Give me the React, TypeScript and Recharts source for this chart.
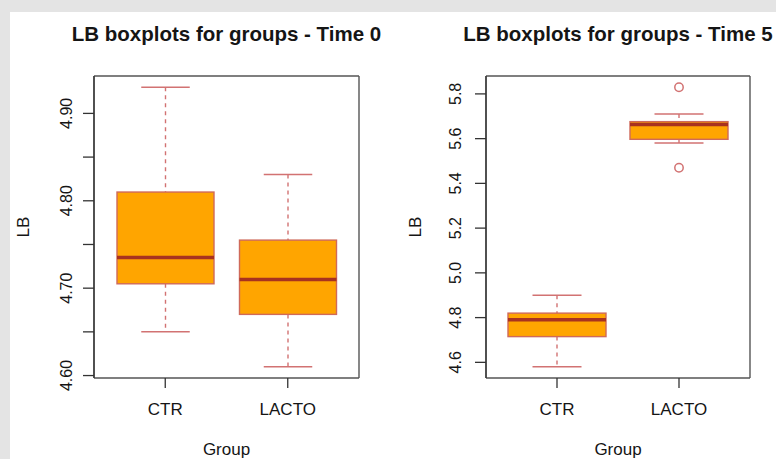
import {
  ComposedChart,
  Bar,
  Scatter,
  XAxis,
  YAxis,
  CartesianGrid,
} from "recharts";

// groups shown on both panels
const groups = ["CTR", "LACTO"];

// Time 0 box statistics
const t0Low = [4.65, 4.61];
const t0Q1 = [4.705, 4.67];
const t0Median = [4.735, 4.71];
const t0Q3 = [4.81, 4.755];
const t0High = [4.93, 4.83];
const t0Outliers: number[][] = [[], []];
const t0Ticks = [4.6, 4.65, 4.7, 4.75, 4.8, 4.85, 4.9];
const t0Labelled = [4.6, 4.7, 4.8, 4.9];
const t0Domain = [4.5972, 4.9428];

// Time 5 box statistics
const t5Low = [4.58, 5.58];
const t5Q1 = [4.715, 5.597];
const t5Median = [4.79, 5.663];
const t5Q3 = [4.82, 5.676];
const t5High = [4.9, 5.71];
const t5Outliers: number[][] = [[], [5.83, 5.47]];
const t5Ticks = [4.6, 4.8, 5.0, 5.2, 5.4, 5.6, 5.8];
const t5Labelled = [4.6, 4.8, 5.0, 5.2, 5.4, 5.6, 5.8];
const t5Domain = [4.53, 5.88];

const FONT = '"Liberation Sans", Arial, sans-serif';
const TEXT = "#151515";
const FRAME = "#555555";
const WHISKER = "#d27272";
const BORDER = "#cf6a5a";
const FILL = "#ffa500";
const MEDIAN = "#a8321f";

const buildRows = (low: number[], q1: number[], med: number[], q3: number[], high: number[]) =>
  groups.map((g, i) => ({
    group: g,
    range: [low[i], high[i]],
    low: low[i],
    q1: q1[i],
    median: med[i],
    q3: q3[i],
    high: high[i],
  }));

const buildOutliers = (out: number[][]) =>
  groups.flatMap((g, i) => out[i].map((v) => ({ group: g, value: v })));

// whole box + whiskers, positioned from the bar's [low, high] extent
const BoxShape = (props: any) => {
  const { x, y, width, height, payload } = props;
  if (!payload || width == null) return <g />;
  const top = Math.min(y, y + height);
  const bottom = Math.max(y, y + height);
  const span = payload.high - payload.low;
  const toY = (v: number) => bottom - ((v - payload.low) / span) * (bottom - top);
  const cx = x + width / 2;
  const cap = width / 4;
  const yQ3 = toY(payload.q3);
  const yQ1 = toY(payload.q1);
  return (
    <g>
      <line x1={cx} x2={cx} y1={toY(payload.high)} y2={yQ3} stroke={WHISKER} strokeWidth={1.4} strokeDasharray="4 4" />
      <line x1={cx} x2={cx} y1={yQ1} y2={toY(payload.low)} stroke={WHISKER} strokeWidth={1.4} strokeDasharray="4 4" />
      <line x1={cx - cap} x2={cx + cap} y1={toY(payload.high)} y2={toY(payload.high)} stroke={WHISKER} strokeWidth={1.5} />
      <line x1={cx - cap} x2={cx + cap} y1={toY(payload.low)} y2={toY(payload.low)} stroke={WHISKER} strokeWidth={1.5} />
      <rect x={x} y={yQ3} width={width} height={yQ1 - yQ3} fill={FILL} stroke={BORDER} strokeWidth={1.4} />
      <line x1={x} x2={x + width} y1={toY(payload.median)} y2={toY(payload.median)} stroke={MEDIAN} strokeWidth={3.5} />
    </g>
  );
};

const Outlier = (props: any) => {
  const { cx, cy } = props;
  if (cx == null || cy == null) return <g />;
  return <circle cx={cx} cy={cy} r={4.2} fill="none" stroke={WHISKER} strokeWidth={1.5} />;
};

const XTick = (props: any) => {
  const { x, y, payload } = props;
  return (
    <text x={x} y={y + 27} textAnchor="middle" fontSize={17} fontFamily={FONT} fill={TEXT}>
      {payload.value}
    </text>
  );
};

const makeYTick = (labelled: number[], shift: number, digits: number) => (props: any) => {
  const { x, y, payload } = props;
  const v = payload.value;
  if (!labelled.some((l) => Math.abs(l - v) < 1e-9)) return <g />;
  return (
    <text transform={`translate(${x - shift},${y}) rotate(-90)`} textAnchor="middle" fontSize={16} fontFamily={FONT} fill={TEXT}>
      {v.toFixed(digits)}
    </text>
  );
};

interface PanelProps {
  left: number;
  chartWidth: number;
  marginLeft: number;
  marginRight: number;
  title: string;
  rows: any[];
  outliers: any[];
  ticks: number[];
  labelled: number[];
  digits: number;
  domain: number[];
  tickShift: number;
  barSize: number;
}

function Panel({ left, chartWidth, marginLeft, marginRight, title, rows, outliers, ticks, labelled, digits, domain, tickShift, barSize }: PanelProps) {
  const plotLeft = marginLeft + 84;
  const plotCenter = plotLeft + (chartWidth - marginRight - plotLeft) / 2;
  const YTick = makeYTick(labelled, tickShift, digits);
  return (
    <div style={{ position: "absolute", left, top: 0, width: chartWidth, height: 459 }}>
      <div
        style={{
          position: "absolute",
          left: plotCenter - 200,
          width: 400,
          top: 23.5,
          textAlign: "center",
          fontFamily: FONT,
          fontWeight: 700,
          fontSize: 20.5,
          lineHeight: 1,
          color: TEXT,
          whiteSpace: "nowrap",
        }}
      >
        {title}
      </div>
      <ComposedChart
        width={chartWidth}
        height={459}
        data={rows}
        margin={{ top: 76, right: marginRight, bottom: 1, left: marginLeft }}
      >
        <CartesianGrid
          stroke={FRAME}
          strokeWidth={1.4}
          horizontalCoordinatesGenerator={({ offset }: any) => [offset.top, offset.top + offset.height]}
          verticalCoordinatesGenerator={({ offset }: any) => [offset.left, offset.left + offset.width]}
        />
        <XAxis
          dataKey="group"
          type="category"
          allowDuplicatedCategory={false}
          padding={{ left: 10, right: 10 }}
          height={80}
          axisLine={false}
          tickSize={10}
          tickMargin={0}
          tickLine={{ stroke: "#333", strokeWidth: 1.3 }}
          tick={<XTick />}
          label={(p: any) => {
            const vb = p.viewBox;
            return (
              <text x={vb.x + vb.width / 2} y={455} textAnchor="middle" fontSize={17} fontFamily={FONT} fill={TEXT}>
                Group
              </text>
            );
          }}
        />
        <YAxis
          type="number"
          domain={domain}
          ticks={ticks}
          allowDataOverflow
          width={84}
          axisLine={{ stroke: "#333", strokeWidth: 1.3 }}
          tickSize={11}
          tickMargin={0}
          tickLine={{ stroke: "#333", strokeWidth: 1.3 }}
          tick={<YTick />}
          label={(p: any) => {
            const vb = p.viewBox;
            const bx = vb.x + vb.width - 65;
            const by = vb.y + vb.height / 2;
            return (
              <text transform={`translate(${bx},${by}) rotate(-90)`} textAnchor="middle" fontSize={17} fontFamily={FONT} fill={TEXT}>
                LB
              </text>
            );
          }}
        />
        <Bar dataKey="range" barSize={barSize} shape={<BoxShape />} isAnimationActive={false} />
        {outliers.length > 0 && (
          <Scatter data={outliers} dataKey="value" shape={<Outlier />} isAnimationActive={false} />
        )}
      </ComposedChart>
    </div>
  );
}

export default function App() {
  const rows0 = buildRows(t0Low, t0Q1, t0Median, t0Q3, t0High);
  const rows5 = buildRows(t5Low, t5Q1, t5Median, t5Q3, t5High);
  return (
    <div style={{ position: "absolute", left: 0, top: 0, width: 776, height: 459, background: "#e4e4e4", overflow: "hidden" }}>
      <div style={{ position: "absolute", left: 10, top: 12, right: 0, bottom: 0, background: "#ffffff" }} />
      <Panel
        left={0}
        chartWidth={388}
        marginLeft={10}
        marginRight={29}
        title="LB boxplots for groups - Time 0"
        rows={rows0}
        outliers={buildOutliers(t0Outliers)}
        ticks={t0Ticks}
        labelled={t0Labelled}
        digits={2}
        domain={t0Domain}
        tickShift={11}
        barSize={97}
      />
      <Panel
        left={390}
        chartWidth={386}
        marginLeft={12}
        marginRight={26}
        title="LB boxplots for groups - Time 5"
        rows={rows5}
        outliers={buildOutliers(t5Outliers)}
        ticks={t5Ticks}
        labelled={t5Labelled}
        digits={1}
        domain={t5Domain}
        tickShift={14}
        barSize={98}
      />
    </div>
  );
}
